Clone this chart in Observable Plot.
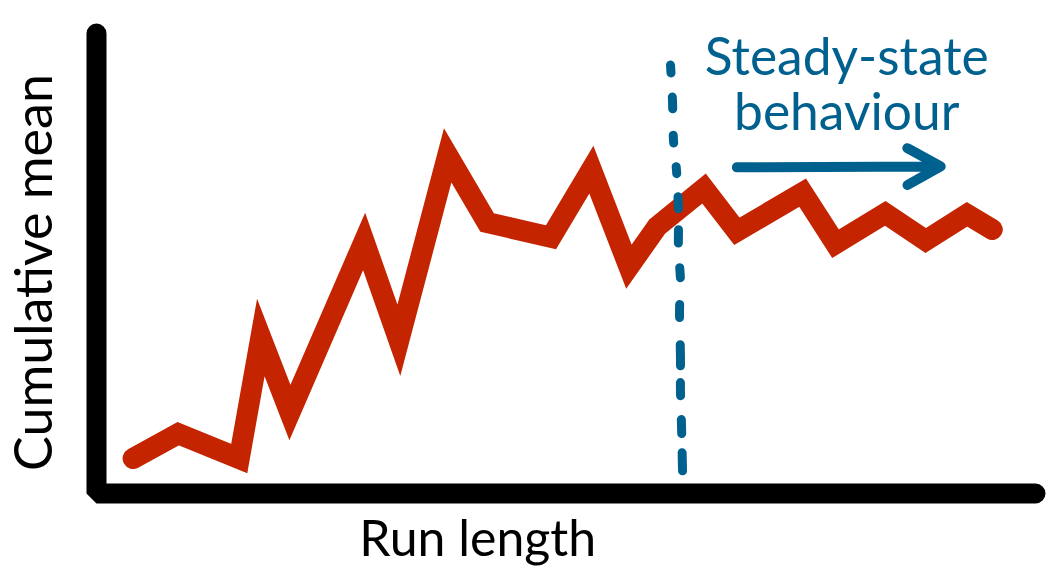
<!DOCTYPE html>
<html>
<head>
<meta charset="utf-8">
<script src="https://cdn.jsdelivr.net/npm/d3@7"></script>
<script src="https://cdn.jsdelivr.net/npm/@observablehq/plot@0.6"></script>
<style>
  html, body { margin: 0; padding: 0; background: #ffffff; }
  #chart { width: 1061px; height: 583px; }
</style>
</head>
<body>
<div id="chart"></div>
<script>
// ---- data ----
const runLength = [3.9, 8.7, 15.2, 17.5, 20.6, 28.5, 32.2, 37.4, 41.6, 48.4, 52.7, 56.7, 59.7, 64.7, 68.2, 75.2, 78.7, 84.0, 88.3, 92.7, 95.4];
const cumulativeMean = [7.6, 13.0, 7.6, 33.9, 17.6, 54.8, 33.3, 73.5, 58.9, 55.7, 70.4, 49.3, 58.0, 66.3, 57.0, 65.4, 54.3, 60.9, 55.0, 60.7, 57.4];

// warm-up cut-off (hand-drawn dashed line)
const cutoffX = [61.13, 61.34, 61.45, 61.77, 61.98, 61.98, 62.19, 62.09, 62.19, 62.19, 62.30, 62.41];
const cutoffY = [93.15, 85.4, 76.7, 70.2, 61.5, 52.8, 46.3, 39.8, 30.0, 22.4, 14.8, 4.9];

// steady-state arrow and annotation
const arrowX = [68.2, 89.9];
const arrowY = [70.9, 71.1];
const annotationText = "Steady-state\nbehaviour";
const annotationX = [79.9];
const annotationY = [99.5];

const xDomain = [0, 100];
const yDomain = [0, 100];
const xLabel = "Run length";
const yLabel = "Cumulative mean";

const red = "#c42400";
const blue = "#00618f";

const series = runLength.map((x, i) => ({x, y: cumulativeMean[i]}));
const cutoff = cutoffX.map((x, i) => ({x, y: cutoffY[i]}));
const axisPath = [
  {x: xDomain[0], y: yDomain[1]},
  {x: xDomain[0], y: yDomain[0]},
  {x: xDomain[1], y: yDomain[0]}
];

const chart = Plot.plot({
  width: 1061,
  height: 583,
  marginLeft: 96,
  marginRight: 26,
  marginTop: 33,
  marginBottom: 90,
  x: {domain: xDomain, axis: null},
  y: {domain: yDomain, axis: null},
  style: {fontFamily: "Lato, 'Open Sans', sans-serif", background: "#ffffff", overflow: "visible"},
  marks: [
    Plot.line(axisPath, {x: "x", y: "y", stroke: "#000000", strokeWidth: 20, strokeLinecap: "round", strokeLinejoin: "miter"}),
    Plot.line(series, {x: "x", y: "y", stroke: red, strokeWidth: 21, strokeLinejoin: "miter", strokeMiterlimit: 10, strokeLinecap: "round"}),
    Plot.line(cutoff, {x: "x", y: "y", stroke: blue, strokeWidth: 9,
      strokeDasharray: "8,24,12,26,8,24,7,23,12,21,13,25,10,27,13,27,21,17,13,24,14,19,18,100",
      strokeLinecap: "round", curve: "catmull-rom"}),
    Plot.arrow([0], {x1: () => arrowX[0], y1: () => arrowY[0], x2: () => arrowX[1], y2: () => arrowY[1], stroke: blue, strokeWidth: 10, headLength: 5.7, headAngle: 58, strokeLinecap: "round", strokeLinejoin: "round"}),
    Plot.text([annotationText], {x: annotationX, y: annotationY, text: d => d, fill: blue, fontSize: 51.5, lineAnchor: "top", lineHeight: 1.07, textAnchor: "middle"}),
    Plot.text([xLabel], {x: [40.6], frameAnchor: "bottom", text: d => d, fill: "#000000", fontSize: 50, lineAnchor: "top", dy: 26.5}),
    Plot.text([yLabel], {frameAnchor: "left", text: d => d, fill: "#000000", fontSize: 52, rotate: -90, dx: -61, dy: 9, lineAnchor: "middle", textAnchor: "middle"})
  ]
});
document.getElementById("chart").appendChild(chart);
</script>
</body>
</html>
